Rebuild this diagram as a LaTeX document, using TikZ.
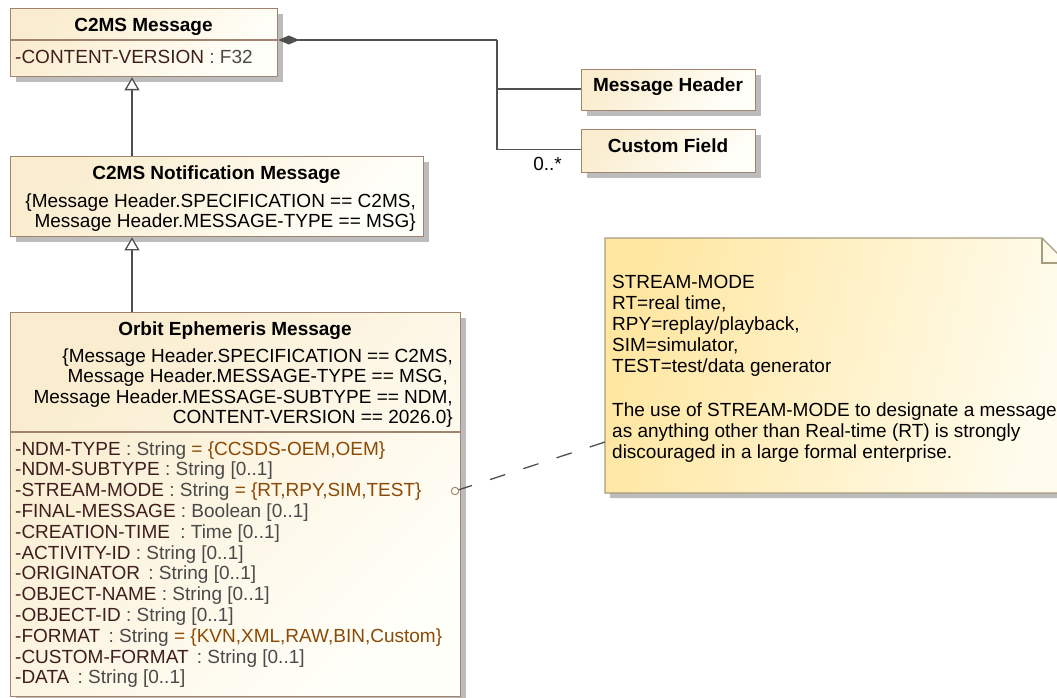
\documentclass[tikz,border=0pt]{standalone}
\usepackage{fontspec}
\setmainfont{Liberation Sans}
\usetikzlibrary{calc, positioning}
\usetikzlibrary{arrows.meta}
\usetikzlibrary{shadows}

\definecolor{clsborder}{HTML}{A08470}
\definecolor{clsfill}{HTML}{FAEDCF}
\definecolor{clslight}{HTML}{FFFFFA}
\definecolor{attrname}{HTML}{3E1E1E}
\definecolor{attrtype}{HTML}{4A4A4A}
\definecolor{attrval}{HTML}{8B4A06}
\definecolor{linkgray}{HTML}{505050}
\definecolor{noteborder}{HTML}{A69C80}
\definecolor{notefill}{HTML}{FFE7A2}
\definecolor{notelight}{HTML}{FFFCEE}
\definecolor{shadowgray}{HTML}{BCBCBC}

\newcommand{\umlfont}{\fontsize{19}{20.8}\selectfont}
\newcommand{\attr}[2]{\textcolor{attrname}{#1}\textcolor{attrtype}{\ : #2}}
\newcommand{\aval}[1]{\textcolor{attrval}{#1}}

\begin{document}
\begin{tikzpicture}[x=1pt, y=-1pt,
  every node/.style={inner sep=0pt, font=\umlfont},
  ttl/.style={font=\umlfont\bfseries},
  cls/.style={draw=clsborder, line width=1.3pt, anchor=north west,
    top color=clsfill, bottom color=clslight, shading angle=45,
    drop shadow={shadow xshift=5pt, shadow yshift=-5pt, fill=shadowgray, opacity=1}},
  sep/.style={draw=clsborder, line width=1.3pt},
  gen/.style={draw=linkgray, line width=1.3pt, -{Triangle[open, fill=white, length=13pt, width=15pt]}},
  comp/.style={draw=linkgray, line width=1.3pt, -{Diamond[fill=linkgray, length=21pt, width=9pt]}},
  link/.style={draw=linkgray, line width=1.3pt},
  notelink/.style={draw=linkgray, line width=1.3pt, dash pattern=on 16pt off 19pt},
  notebox/.style={draw=noteborder, line width=1.2pt, top color=notefill, bottom color=notelight, shading angle=75}]

\useasboundingbox (0,0) rectangle (1057,698);

\node[cls, minimum width=267pt, minimum height=68pt] (msg) at (10,8) {};
\node[cls, minimum width=413pt, minimum height=80pt] (notif) at (10,156) {};
\node[cls, minimum width=450pt, minimum height=384pt] (oem) at (10,312) {};
\node[cls, minimum width=174pt, minimum height=41pt] (hdr) at (581,69) {};
\node[cls, minimum width=174pt, minimum height=43pt] (cust) at (581,129) {};

\draw[sep] (10,40) -- (277,40);
\draw[sep] (10,432) -- (460,432);

\node[ttl, anchor=base] (msgname) at (143.5,32) {C2MS Message};
\node[anchor=base west] (msgattr) at (15,64) {\attr{-CONTENT-VERSION}{F32}};

\node[ttl, anchor=base] (notifname) at (216.5,179) {C2MS Notification Message};
\foreach \row [count=\k from 0] in {{\{Message Header.SPECIFICATION == C2MS,}, {Message Header.MESSAGE-TYPE == MSG\}}}
  \node[anchor=base east] (notifrule\k) at (416,207+20.5*\k) {\row};

\node[ttl, anchor=base] (oemname) at (235,335) {Orbit Ephemeris Message};
\foreach \row [count=\k from 0] in {{\{Message Header.SPECIFICATION == C2MS,}, {Message Header.MESSAGE-TYPE == MSG,\kern5pt}, {Message Header.MESSAGE-SUBTYPE == NDM,}, {CONTENT-VERSION == 2026.0\}}}
  \node[anchor=base east] (oemrule\k) at (453,362+20.5*\k) {\row};

\foreach \row [count=\k from 0] in {
  \attr{-NDM-TYPE}{String \aval{= \{CCSDS-OEM,OEM\}}},
  \attr{-NDM-SUBTYPE}{String [0..1]},
  \attr{-STREAM-MODE}{String \aval{= \{RT,RPY,SIM,TEST\}}},
  \attr{-FINAL-MESSAGE}{Boolean [0..1]},
  \attr{-CREATION-TIME\kern5pt}{Time [0..1]},
  \attr{-ACTIVITY-ID}{String [0..1]},
  \attr{-ORIGINATOR\kern3pt}{String [0..1]},
  \attr{-OBJECT-NAME}{String [0..1]},
  \attr{-OBJECT-ID}{String [0..1]},
  \attr{-FORMAT\kern3pt}{String \aval{= \{KVN,XML,RAW,BIN,Custom\}}},
  \attr{-CUSTOM-FORMAT\kern3pt}{String [0..1]},
  \attr{-DATA\kern3pt}{String [0..1]}}
  \node[anchor=base west] (oemattr\k) at (15,455+20.8*\k) {\row};

\node[ttl, anchor=base] (hdrname) at (668,92) {Message Header};
\node[ttl, anchor=base] (custname) at (668,153) {Custom Field};

\coordinate (gx) at (132,0);
\draw[gen] (gx |- notif.north) -- (gx |- msg.south);
\draw[gen] (gx |- oem.north) -- (gx |- notif.south);

\coordinate (jn) at (497,40);
\draw[link] ([yshift=1pt]hdr.west) -| (jn);
\draw[link] ([yshift=2pt]cust.west) -| (jn);
\draw[comp] (jn) -- (msg.east |- jn);
\node[anchor=base east] (mult) at (562,170) {0..*};

\fill[shadowgray, shift={(5,5)}] (605,238) -- (1042,238) -- (1067,263) -- (1067,493) -- (605,493) -- cycle;
\path[notebox] (605,238) -- (1042,238) -- (1067,263) -- (1067,493) -- (605,493) -- cycle;
\draw[noteborder, line width=1.2pt] (1042,238) |- (1067,263);

\foreach \row [count=\k from 0] in {STREAM-MODE, {RT=real time,}, {RPY=replay/playback,}, {SIM=simulator,}, TEST=test/data generator}
  \node[anchor=base west] (notehead\k) at (612,288+21*\k) {\row};
\foreach \row [count=\k from 0] in {The use of STREAM-MODE to designate a message, as anything other than Real-time (RT) is strongly, discouraged in a large formal enterprise.}
  \node[anchor=base west] (notebody\k) at (612,416.5+21*\k) {\row};

\coordinate (streampin) at (455,491);
\coordinate (notepin) at (605,442);
\draw[notelink] (notepin) -- (streampin);
\draw[clsborder, line width=1pt, fill=clslight] (streampin) circle[radius=3.7pt];
\end{tikzpicture}
\end{document}
